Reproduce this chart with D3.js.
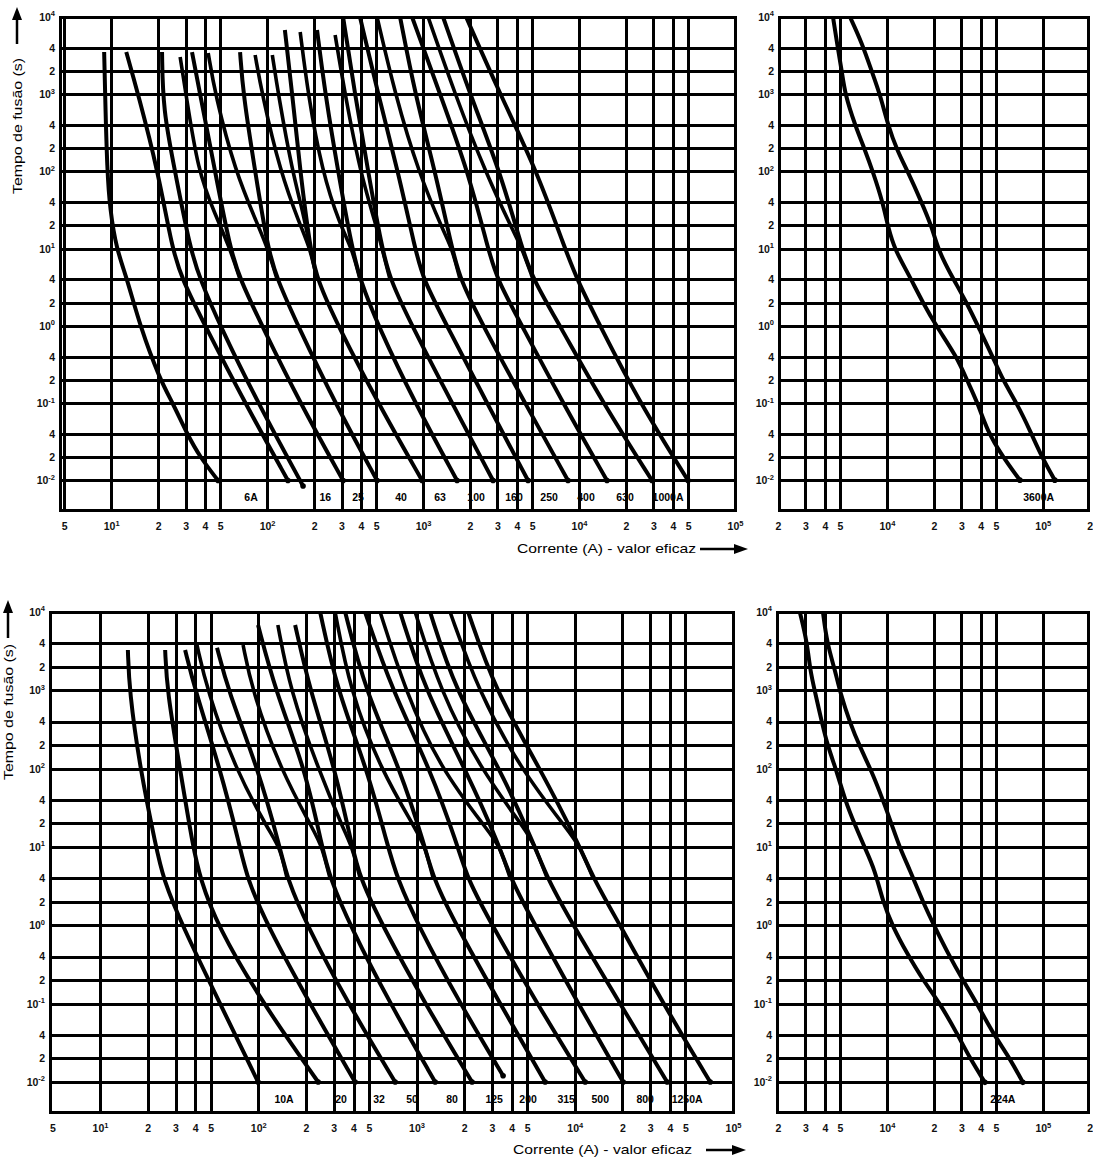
<!DOCTYPE html>
<html>
<head>
<meta charset="utf-8">
<script src="https://cdn.jsdelivr.net/npm/d3@7"></script>
<style>
  body { margin: 0; background: #fff; }
  svg { display: block; font-family: "Liberation Sans", Arial, sans-serif; }
</style>
</head>
<body>
<svg id="chart" width="1093" height="1157"></svg>
<script>
// tick values and labels ("^" starts a superscript)
var yTickValues = [1e4, 4e3, 2e3, 1e3, 400, 200, 100, 40, 20, 10, 4, 2, 1, 0.4, 0.2, 0.1, 0.04, 0.02, 0.01];
var yTickLabels = ["10^4", "4", "2", "10^3", "4", "2", "10^2", "4", "2", "10^1", "4", "2", "10^0", "4", "2", "10^-1", "4", "2", "10^-2"];
var xTicksLeft = [5, 10, 20, 30, 40, 50, 100, 200, 300, 400, 500, 1e3, 2e3, 3e3, 4e3, 5e3, 1e4, 2e4, 3e4, 4e4, 5e4, 1e5];
var xLabelsLeft = ["5", "10^1", "2", "3", "4", "5", "10^2", "2", "3", "4", "5", "10^3", "2", "3", "4", "5", "10^4", "2", "3", "4", "5", "10^5"];
var xTicksRight = [2e3, 3e3, 4e3, 5e3, 1e4, 2e4, 3e4, 4e4, 5e4, 1e5, 2e5];
var xLabelsRight = ["2", "3", "4", "5", "10^4", "2", "3", "4", "5", "10^5", "2"];

// melting curves: [current A, time s]
var curvesTopLeft = [
  [[9.02,3520],[9.15,1000],[9.43,100],[9.85,31.6],[10.8,10],[12.7,4],[15.3,1],[20.6,0.2],[24.9,0.1],[30.7,0.04],[37.2,0.02],[48.5,0.01]],
  [[12.5,3520],[14.9,1000],[20.0,100],[24.6,10],[28.5,4],[40.1,1],[72.3,0.1],[136,0.01]],
  [[21.2,3520],[21.5,620],[25.7,100],[32.1,10],[37.2,4],[50.0,1],[87.5,0.1],[170,0.0085]],
  [[33.0,3520],[37.2,1000],[46.4,100],[57.9,10],[67.1,4],[92.9,1],[163,0.1],[307,0.01]],
  [[67.1,3520],[70.2,1000],[83.8,100],[101,10],[116,4],[158,1],[273,0.1],[507,0.01]],
  [[130,6800],[145,1000],[163,100],[189,10],[209,4],[285,1],[515,0.1],[986,0.01]],
  [[209,6800],[236,1000],[285,100],[351,10],[394,4],[515,1],[889,0.1],[1652,0.01]],
  [[307,1e4],[366,1000],[444,100],[546,10],[614,4],[850,1],[1535,0.1],[2811,0.01]],
  [[394,1e4],[515,1000],[691,100],[889,10],[1000,4],[1426,1],[2572,0.1],[4712,0.01]],
  [[712,1e4],[889,1000],[1194,100],[1535,10],[1727,4],[2425,1],[4508,0.1],[8497,0.01]],
  [[850,1e4],[1286,1000],[1943,100],[2610,10],[2980,4],[4316,1],[7895,0.1],[15110,0.01]],
  [[1343,1e4],[2000,1000],[3119,100],[4316,10],[5073,4],[7557,1],[14260,0.1],[29380,0.01]],
  [[1888,1e4],[3119,1000],[5383,100],[8134,10],[9706,4],[13640,1],[24600,0.1],[50000,0.01]]
];
// upper branches that run into a neighbouring curve
var branchesTopLeft = [
  [[27.7,3030],[30.2,1000],[36.1,100],[45.7,30],[57.9,10],[67.1,4]],
  [[41.9,3420],[46.4,1000],[62.4,100],[87.5,20],[101,10],[116,4]],
  [[83.8,3220],[92.9,1000],[121,100],[163,20],[189,10],[209,4]],
  [[108,3220],[118,1000],[145,100],[170,30],[189,10],[209,4]],
  [[163,6400],[183,1000],[225,100],[294,20],[351,10],[394,4]],
  [[273,5850],[316,1000],[394,100],[500,20],[546,10],[614,4]],
  [[507,1e4],[662,1000],[929,100],[1384,15],[1535,10],[1727,4]],
  [[1077,1e4],[1603,1000],[2496,100],[3890,15],[4316,10],[5073,4]]
];
var labelsTopLeft = [["6A",78.9],["16",236],["25",383],["40",723],["63",1286],["100",2188],["160",3829],["250",6427],["400",11090],["630",19720],["1000A",37220]];

var curvesTopRight = [
  [[4508,1e4],[4780,4605],[5147,1941],[5380,1007],[6237,400],[7227,190],[8132,98.6],[9427,39.1],[10150,19.1],[11250,9.64],[13640,4.85],[17020,1.99],[20920,0.97],[28110,0.397],[32590,0.2],[38310,0.1],[43740,0.045],[55430,0.0201],[71290,0.0101]],
  [[5794,1e4],[6914,4605],[8013,1941],[9018,1007],[10150,400],[11590,190],[13640,98.6],[16760,39.1],[19430,19.1],[21230,9.93],[25340,4.85],[32590,1.99],[39460,0.887],[47800,0.397],[55430,0.2],[68120,0.1],[82560,0.045],[98560,0.0201],[119400,0.0101]]
];
var labelsTopRight = [["3600A",94000]];

var curvesBottomLeft = [
  [[15.0,3270],[15.3,1000],[17.9,100],[22.6,10],[25.0,4],[33.0,1],[57.4,0.1],[99.7,0.01]],
  [[25.8,3270],[26.5,1000],[32.0,100],[38.7,10],[42.9,4],[54.9,1],[107,0.1],[239,0.01]],
  [[34.5,3270],[39.9,1000],[57.4,100],[76.7,10],[84.9,4],[114,1],[212,0.1],[409,0.01]],
  [[54.9,3500],[64.4,1000],[99.7,100],[137,10],[152,4],[203,1],[370,0.1],[733,0.01]],
  [[99.7,6820],[128,1000],[198,100],[253,10],[284,4],[380,1],[681,0.1],[1312,0.01]],
  [[171,6820],[212,1000],[306,100],[392,10],[440,4],[607,1],[1133,0.1],[2244,0.01]],
  [[246,1e4],[315,1000],[487,100],[661,10],[754,4],[1023,1],[1887,0.1],[3525,0.012]],
  [[354,1e4],[473,1000],[788,100],[1133,10],[1274,4],[1778,1],[3377,0.1],[6497,0.01]],
  [[473,1e4],[701,1000],[1219,100],[1832,10],[2089,4],[3004,1],[5785,0.1],[11640,0.01]],
  [[788,1e4],[1133,1000],[2029,100],[3377,10],[3907,4],[5623,1],[10520,0.1],[20230,0.01]],
  [[1219,1e4],[1754,1000],[3377,100],[5623,10],[6695,4],[9772,1],[19360,0.1],[38370,0.01]],
  [[2120,1e4],[3141,1000],[6043,100],[10820,10],[13070,4],[19360,1],[36220,0.1],[71780,0.01]]
];
var branchesBottomLeft = [
  [[41.0,3790],[47.5,1000],[71.3,100],[119,15],[137,10],[152,4]],
  [[80.2,3790],[91.4,1000],[137,100],[229,15],[253,10],[284,4]],
  [[133,6820],[159,1000],[239,100],[354,15],[392,10],[440,4]],
  [[306,1e4],[380,1000],[589,100],[1023,15],[1133,10],[1274,4]],
  [[589,1e4],[847,1000],[1410,100],[2918,15],[3377,10],[3907,4]],
  [[980,1e4],[1410,1000],[2523,100],[5074,15],[5623,10],[6695,4]],
  [[1630,1e4],[2449,1000],[4519,100],[9355,15],[10820,10],[13070,4]]
];
var labelsBottomLeft = [["10A",145.6],["20",333.8],["32",580],["50",938],["80",1679],["125",3097],["200",5074],["315",8831],["500",14490],["800",27870],["1250A",51290]];

var curvesBottomRight = [
  [[2769,9710],[3071,4140],[3210,1816],[3455,951],[3831,382],[4186,189],[4780,90.6],[5380,39.7],[6237,19.0],[7227,9.68],[8377,5.07],[9427,1.98],[10930,0.948],[13430,0.441],[17020,0.2],[21870,0.101],[28110,0.042],[34060,0.0201],[42490,0.0099]],
  [[3890,9710],[4125,4000],[4642,1816],[4998,951],[5794,382],[6712,189],[8013,90.6],[9427,39.7],[10770,19.0],[12110,9.68],[14040,5.07],[17020,1.98],[20310,0.948],[24600,0.441],[30690,0.2],[37760,0.101],[47800,0.042],[61420,0.0201],[74450,0.0099]]
];
var labelsBottomRight = [["224A",55430]];

var svg = d3.select("#chart");
svg.append("rect").attr("width", 1093).attr("height", 1157).attr("fill", "#fff");

var panels = [
  { x0: 60, x1: 735, y0: 17, y1: 510, xMin: 4.7, xMax: 1e5, yMin: Math.pow(10, -2.382),
    xTicks: xTicksLeft, xLabels: xLabelsLeft, curves: curvesTopLeft, branches: branchesTopLeft, labels: labelsTopLeft },
  { x0: 779, x1: 1088, y0: 17, y1: 510, xMin: 2030, xMax: 1.95e5, yMin: Math.pow(10, -2.382),
    xTicks: xTicksRight, xLabels: xLabelsRight, curves: curvesTopRight, branches: [], labels: labelsTopRight },
  { x0: 50, x1: 733, y0: 612, y1: 1112, xMin: 4.83, xMax: 1e5, yMin: Math.pow(10, -2.383),
    xTicks: xTicksLeft, xLabels: xLabelsLeft, curves: curvesBottomLeft, branches: branchesBottomLeft, labels: labelsBottomLeft },
  { x0: 777, x1: 1088, y0: 612, y1: 1112, xMin: 1970, xMax: 1.95e5, yMin: Math.pow(10, -2.383),
    xTicks: xTicksRight, xLabels: xLabelsRight, curves: curvesBottomRight, branches: [], labels: labelsBottomRight }
];

// writes "10^4" as 10 + raised 4
function setLabel(sel, lab) {
  sel.text(null);
  var parts = lab.split("^");
  sel.append("tspan").text(parts[0]);
  if (parts.length > 1) {
    sel.append("tspan").attr("font-size", 7.5).attr("dy", "-0.6em").text(parts[1]);
  }
}

// crisp 3px lines
function px(v) { return Math.round(v) + 0.5; }

panels.forEach(function (p, pi) {
  var x = d3.scaleLog().domain([p.xMin, p.xMax]).range([p.x0, p.x1]);
  var y = d3.scaleLog().domain([p.yMin, 1e4]).range([p.y1, p.y0]);
  var g = svg.append("g");

  // fuse rating labels (grid is drawn over them, like the original)
  g.selectAll(".clabel").data(p.labels).join("text")
    .attr("x", d => x(d[1]))
    .attr("y", y(0.01) + 21)
    .attr("text-anchor", "middle")
    .attr("font-size", 10.5)
    .attr("font-weight", "bold")
    .text(d => d[0]);

  var vGrid = p.xTicks.filter(v => x(v) > p.x0 + 3 && x(v) < p.x1 - 3);
  g.selectAll(".vg").data(vGrid).join("line")
    .attr("x1", d => px(x(d))).attr("x2", d => px(x(d)))
    .attr("y1", p.y0).attr("y2", p.y1)
    .attr("stroke", "#000").attr("stroke-width", 3);

  var hGrid = yTickValues.filter(v => v < 1e4);
  g.selectAll(".hg").data(hGrid).join("line")
    .attr("x1", p.x0).attr("x2", p.x1)
    .attr("y1", d => px(y(d))).attr("y2", d => px(y(d)))
    .attr("stroke", "#000").attr("stroke-width", 3);

  g.append("rect")
    .attr("x", px(p.x0)).attr("y", px(p.y0))
    .attr("width", Math.round(p.x1 - p.x0)).attr("height", Math.round(p.y1 - p.y0))
    .attr("fill", "none").attr("stroke", "#000").attr("stroke-width", 3);

  // axes (labels only)
  var xAxis = g.append("g")
    .attr("transform", `translate(0,${p.y1})`)
    .call(d3.axisBottom(x).tickValues(p.xTicks).tickSize(0).tickPadding(13));
  xAxis.select(".domain").remove();
  xAxis.selectAll(".tick text")
    .attr("font-size", 10.5).attr("font-weight", "bold").attr("fill", "#111")
    .attr("font-family", "Liberation Sans, Arial, sans-serif")
    .each(function (d, i) { setLabel(d3.select(this), p.xLabels[i]); });

  var yAxis = g.append("g")
    .attr("transform", `translate(${p.x0},0)`)
    .call(d3.axisLeft(y).tickValues(yTickValues).tickSize(0).tickPadding(5));
  yAxis.select(".domain").remove();
  yAxis.selectAll(".tick text")
    .attr("font-size", 10.5).attr("font-weight", "bold").attr("fill", "#111")
    .attr("font-family", "Liberation Sans, Arial, sans-serif")
    .each(function (d, i) { setLabel(d3.select(this), yTickLabels[i]); });

  // curves
  svg.append("clipPath").attr("id", "clip" + pi)
    .append("rect").attr("x", p.x0).attr("y", p.y0 - 3)
    .attr("width", p.x1 - p.x0).attr("height", p.y1 - p.y0);
  var line = d3.line()
    .x(d => x(d[0])).y(d => y(d[1]))
    .curve(d3.curveBasis);
  var cg = g.append("g").attr("clip-path", `url(#clip${pi})`);
  cg.selectAll(".branch").data(p.branches).join("path")
    .attr("d", line)
    .attr("fill", "none").attr("stroke", "#000")
    .attr("stroke-width", 3.6).attr("stroke-linejoin", "round");
  cg.selectAll(".curve").data(p.curves).join("path")
    .attr("d", line)
    .attr("fill", "none").attr("stroke", "#000")
    .attr("stroke-width", 4).attr("stroke-linejoin", "round");
  cg.selectAll(".end").data(p.curves).join("circle")
    .attr("cx", d => x(d[d.length - 1][0]))
    .attr("cy", d => y(d[d.length - 1][1]))
    .attr("r", 2.8).attr("fill", "#000");
});

// axis titles and arrows
function yTitle(cx, cy, ay0, ay1) {
  svg.append("text")
    .attr("transform", `translate(${cx},${cy}) rotate(-90)`)
    .attr("text-anchor", "middle")
    .attr("font-size", 12.5)
    .attr("textLength", 136).attr("lengthAdjust", "spacingAndGlyphs")
    .text("Tempo de fusão (s)");
  svg.append("line").attr("x1", cx - 5).attr("x2", cx - 5).attr("y1", ay1).attr("y2", ay0 + 10)
    .attr("stroke", "#000").attr("stroke-width", 2.5);
  svg.append("path")
    .attr("d", `M${cx - 5},${ay0} L${cx - 10},${ay0 + 13} L${cx},${ay0 + 13} Z`)
    .attr("fill", "#000");
}
yTitle(22, 126, 7, 44);
yTitle(13, 712, 600, 638);

function xTitle(tx, ty, ax0, ax1) {
  svg.append("text")
    .attr("x", tx).attr("y", ty)
    .attr("font-size", 13)
    .attr("textLength", 179).attr("lengthAdjust", "spacingAndGlyphs")
    .text("Corrente (A) - valor eficaz");
  svg.append("line").attr("x1", ax0).attr("x2", ax1 - 10).attr("y1", ty - 4).attr("y2", ty - 4)
    .attr("stroke", "#000").attr("stroke-width", 2.5);
  svg.append("path")
    .attr("d", `M${ax1},${ty - 4} L${ax1 - 14},${ty - 9} L${ax1 - 14},${ty + 1} Z`)
    .attr("fill", "#000");
}
xTitle(517, 553, 700, 748);
xTitle(513, 1154, 706, 746);
</script>
</body>
</html>
